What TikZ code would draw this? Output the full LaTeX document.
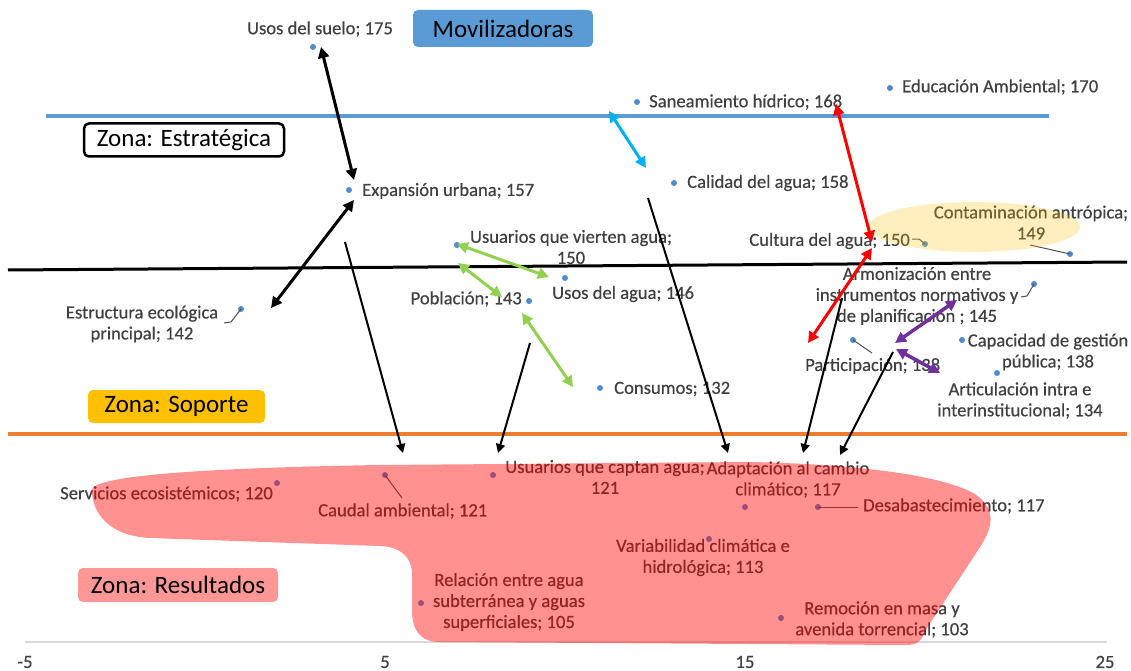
\documentclass[tikz,border=0pt]{standalone}
\usepackage{fontspec}
\setmainfont{Carlito}
\newfontfamily\lblfont{Carlito}[FakeBold=0.4]
\usetikzlibrary{arrows.meta}

\definecolor{lineblue}{HTML}{5B9BD5}
\definecolor{dotblue}{HTML}{4F8BD0}
\definecolor{lineorange}{HTML}{ED7D31}
\definecolor{zonegold}{HTML}{FFC000}
\definecolor{zonepink}{HTML}{FF9797}
\definecolor{labelgray}{HTML}{404040}
\definecolor{leadgray}{HTML}{505050}
\definecolor{axisgray}{HTML}{D9D9D9}
\definecolor{arrcyan}{HTML}{00B0F0}
\definecolor{arrgreen}{HTML}{92D050}
\definecolor{arrpurple}{HTML}{7030A0}

\begin{document}
\begin{tikzpicture}[x=1pt,y=-1pt,
  lbl/.style={inner sep=0pt, text=labelgray, font=\lblfont\fontsize{18.6}{21}\selectfont},
  mlbl/.style={lbl, align=center},
  pt/.style={circle, fill=dotblue, inner sep=0pt, minimum size=6pt},
  zone/.style={rounded corners=5pt, inner sep=0pt, text=black,
    font=\fontsize{25}{30}\selectfont},
  lead/.style={draw=leadgray, line width=1pt},
  dbl/.style={line width=3pt,
    {Triangle[length=11pt,width=11pt]}-{Triangle[length=11pt,width=11pt]}},
  one/.style={line width=2pt, -{Triangle[length=9pt,width=9pt]}}
]
\useasboundingbox (0,0) rectangle (1131,671);
\fill[white] (0,0) rectangle (1131,671);

% zone separators and value axis
\draw[lineblue, line width=4pt] (46,116) -- (1049,116);
\draw[black, line width=3pt] (8,270) -- (1127,262);
\draw[lineorange, line width=3.5pt] (8,434) -- (1127,434);
\draw[axisgray, line width=1.5pt] (25,642) -- (1107,642);
\foreach \v/\px in {-5/25, 5/385, 15/745, 25/1105}
  \node[lbl] (tick\px) at (\px,662) {\v};

% zone labels
\node[zone, fill=lineblue, minimum width=180pt, minimum height=37pt]
  (zmov) at (503,28.5) {Movilizadoras};
\node[zone, draw=black, line width=2.5pt, fill=white, minimum width=200pt,
  minimum height=33pt] (zest) at (184,140) {Zona: Estratégica};
\node[zone, fill=zonegold, minimum width=177pt, minimum height=33pt]
  (zsop) at (176.5,406.5) {Zona: Soporte};
\node[zone, fill=zonepink, minimum width=200pt, minimum height=34pt]
  (zres) at (178,585) {Zona: Resultados};

% data points
\foreach \n/\x/\y in {usuelo/313/47, educ/890/88, sane/637/102, expan/349/190,
  calid/674/183, contam/1070/254, cultura/925/244, usuvier/457/245,
  usosagua/565/278, pobl/529/301, estruct/241/309, armon/1034/284,
  capac/962/340, particip/853/340, artic/997/373, consumos/600/388,
  servicios/277/483, caudal/385/475, usucapt/493/475, adapt/745/507,
  desab/818/507, variab/709/539, relac/421/603, remoc/781/618}
  \node[pt] (p-\n) at (\x,\y) {};

% point labels
\node[lbl] (l-usuelo) at (320,29) {Usos del suelo; 175};
\node[lbl, anchor=west] (l-educ) at (902,87) {Educación Ambiental; 170};
\node[lbl, anchor=west] (l-sane) at (649,102) {Saneamiento hídrico; 168};
\node[lbl, anchor=west] (l-expan) at (362,191) {Expansión urbana; 157};
\node[lbl, anchor=west] (l-calid) at (687,183) {Calidad del agua; 158};
\node[mlbl] (l-contam) at (1031,222.5) {Contaminación antrópica;\\149};
\node[lbl, anchor=east] (l-cultura) at (910,241) {Cultura del agua; 150};
\node[mlbl] (l-usuvier) at (571,247) {Usuarios que vierten agua;\\150};
\node[lbl, anchor=west] (l-usosagua) at (552,294) {Usos del agua; 146};
\node[lbl, anchor=east] (l-pobl) at (522,299) {Población; 143};
\node[mlbl] (l-estruct) at (142,324) {Estructura ecológica\\principal; 142};
\node[mlbl] (l-armon) at (917,296)
  {Armonización entre\\instrumentos normativos y\\de planificación ; 145};
\node[mlbl] (l-capac) at (1048,352) {Capacidad de gestión\\pública; 138};
\node[lbl, anchor=west] (l-particip) at (805,366) {Participación; 138};
\node[mlbl] (l-artic) at (1020,400.5) {Articulación intra e\\interinstitucional; 134};
\node[lbl, anchor=west] (l-consumos) at (614,389) {Consumos; 132};
\node[lbl, anchor=east] (l-servicios) at (273,494) {Servicios ecosistémicos; 120};
\node[lbl, anchor=west] (l-caudal) at (318,511) {Caudal ambiental; 121};
\node[mlbl] (l-usucapt) at (605,477) {Usuarios que captan agua;\\121};
\node[mlbl] (l-adapt) at (788,479.5) {Adaptación al cambio\\climático; 117};
\node[lbl, anchor=west] (l-desab) at (863,506) {Desabastecimiento; 117};
\node[mlbl] (l-variab) at (703,557.5) {Variabilidad climática e\\hidrológica; 113};
\node[mlbl] (l-relac) at (509,602)
  {Relación entre agua\\subterránea y aguas\\superficiales; 105};
\node[mlbl] (l-remoc) at (882,619.5) {Remoción en masa y\\avenida torrencial; 103};

% leader lines
\draw[lead] (224,323) -- (231,322) -- (p-estruct.center);
\draw[lead] (912,239) -- (919,239) -- (p-cultura.center);
\draw[lead] (1030,245) -- (p-contam.center);
\draw[lead] (1021,297) -- (1027,296) -- (p-armon.center);
\draw[lead] (p-particip.center) -- (872,353);
\draw[lead] (p-caudal.center) -- (402,498);
\draw[lead] (p-desab.center) -- (858,507);

% highlighted areas
\fill[zonegold, opacity=0.25] (974,227) ellipse [x radius=106, y radius=25];
\fill[red, opacity=0.43]
  (92,490) .. controls (92,476) and (200,468) .. (380,465)
  -- (750,462) .. controls (850,464) and (940,474) .. (975,494)
  .. controls (995,508) and (994,524) .. (982,544)
  -- (927,628) .. controls (921,640) and (920,645) .. (905,645)
  -- (440,642) .. controls (420,642) and (412,630) .. (412,610)
  -- (412,575) .. controls (412,556) and (400,547) .. (380,546)
  -- (150,538) .. controls (110,536) and (92,514) .. (92,490) -- cycle;

% arrow end points
\coordinate (a1s) at (321,47);   \coordinate (a1e) at (354,180);
\coordinate (a2s) at (354,200);  \coordinate (a2e) at (271,308);
\coordinate (s1s) at (345,242);  \coordinate (s1e) at (403,453);
\coordinate (s2s) at (530,343);  \coordinate (s2e) at (498,453);
\coordinate (s3s) at (648,198);  \coordinate (s3e) at (728,453);
\coordinate (s4s) at (842,298);  \coordinate (s4e) at (803,453);
\coordinate (s5s) at (893,352);  \coordinate (s5e) at (840,455);
\coordinate (cys) at (609,111);  \coordinate (cye) at (646,168);
\coordinate (r1s) at (836,104);  \coordinate (r1e) at (872,242);
\coordinate (r2s) at (872,248);  \coordinate (r2e) at (808,343);
\coordinate (g1s) at (457,244);  \coordinate (g1e) at (549,277);
\coordinate (g2s) at (458,263);  \coordinate (g2e) at (502,297);
\coordinate (g3s) at (522,313);  \coordinate (g3e) at (573,387);
\coordinate (v1s) at (957,300);  \coordinate (v1e) at (895,343);
\coordinate (v2s) at (896,349);  \coordinate (v2e) at (940,373);

% relations
\draw[dbl, black] (a1s) -- (a1e);
\draw[dbl, black] (a2s) -- (a2e);
\draw[one, black] (s1s) -- (s1e);
\draw[one, black] (s2s) -- (s2e);
\draw[one, black] (s3s) -- (s3e);
\draw[one, black] (s4s) -- (s4e);
\draw[one, black] (s5s) -- (s5e);
\draw[dbl, arrcyan] (cys) -- (cye);
\draw[dbl, red] (r1s) -- (r1e);
\draw[dbl, red] (r2s) -- (r2e);
\draw[dbl, arrgreen] (g1s) -- (g1e);
\draw[dbl, arrgreen] (g2s) -- (g2e);
\draw[dbl, arrgreen] (g3s) -- (g3e);
\draw[dbl, arrpurple, line width=3.5pt] (v1s) -- (v1e);
\draw[dbl, arrpurple, line width=3.5pt] (v2s) -- (v2e);
\end{tikzpicture}
\end{document}
